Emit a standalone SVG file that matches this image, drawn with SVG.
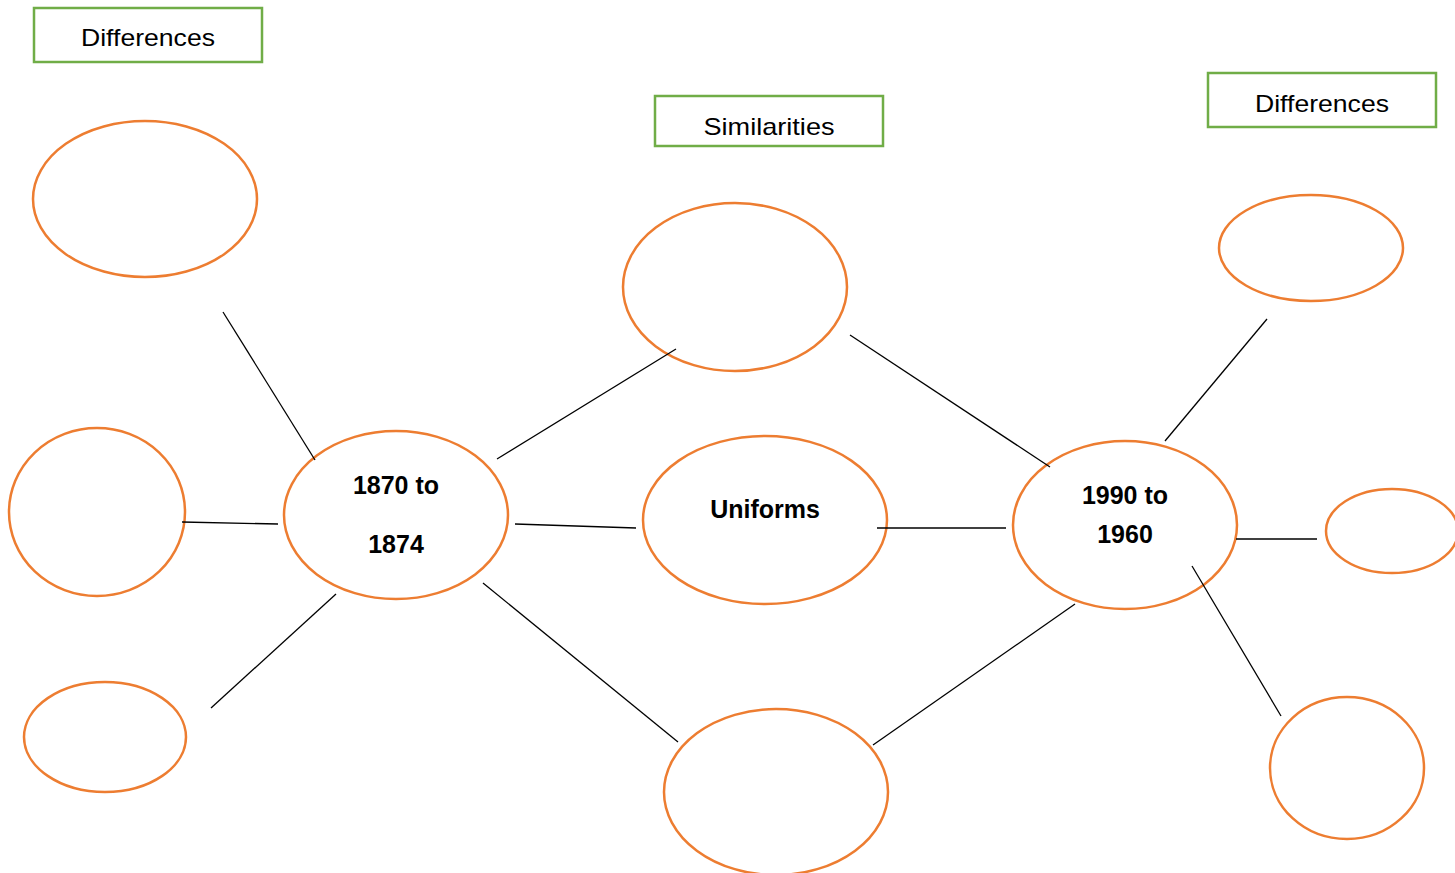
<svg xmlns="http://www.w3.org/2000/svg" width="1455" height="873" viewBox="0 0 1455 873">
<style>
.box{fill:#fff;stroke:#70AD47;stroke-width:2.5}
.ell{fill:#fff;stroke:#ED7D31;stroke-width:2.5}
.lbl{font-family:"Liberation Sans",Arial,sans-serif;font-size:24px;fill:#000;text-anchor:middle}
.bold{font-family:"Liberation Sans",Arial,sans-serif;font-size:25px;font-weight:bold;fill:#000;text-anchor:middle}
.conn line{stroke:#000;stroke-width:1.3}
</style>
<rect width="1455" height="873" fill="#fff"/>
<g id="label-differences-left"><rect class="box" x="34" y="8" width="228" height="54"/><text class="lbl" x="148" y="46" textLength="134" lengthAdjust="spacingAndGlyphs">Differences</text></g>
<g id="label-similarities"><rect class="box" x="655" y="96" width="228" height="50"/><text class="lbl" x="769" y="135" textLength="131" lengthAdjust="spacingAndGlyphs">Similarities</text></g>
<g id="label-differences-right"><rect class="box" x="1208" y="73" width="228" height="54"/><text class="lbl" x="1322" y="112" textLength="134" lengthAdjust="spacingAndGlyphs">Differences</text></g>
<g id="left-top"><ellipse class="ell" cx="145" cy="199" rx="112" ry="78"/></g>
<g id="left-mid"><ellipse class="ell" cx="97" cy="512" rx="88" ry="84"/></g>
<g id="left-bottom"><ellipse class="ell" cx="105" cy="737" rx="81" ry="55"/></g>
<g id="node-1870"><ellipse class="ell" cx="396" cy="515" rx="112" ry="84"/><text class="bold" x="396" y="494">1870 to</text><text class="bold" x="396" y="553">1874</text></g>
<g id="mid-top"><ellipse class="ell" cx="735" cy="287" rx="112" ry="84"/></g>
<g id="node-uniforms"><ellipse class="ell" cx="765" cy="520" rx="122" ry="84"/><text class="bold" x="765" y="518">Uniforms</text></g>
<g id="mid-bottom"><ellipse class="ell" cx="776" cy="792" rx="112" ry="83"/></g>
<g id="node-1990"><ellipse class="ell" cx="1125" cy="525" rx="112" ry="84"/><text class="bold" x="1125" y="504">1990 to</text><text class="bold" x="1125" y="543">1960</text></g>
<g id="right-top"><ellipse class="ell" cx="1311" cy="248" rx="92" ry="53"/></g>
<g id="right-mid"><ellipse class="ell" cx="1392" cy="531" rx="66" ry="42"/></g>
<g id="right-bottom"><ellipse class="ell" cx="1347" cy="768" rx="77" ry="71"/></g>
<g id="connectors" class="conn">
<line x1="223" y1="312" x2="315" y2="460"/>
<line x1="182" y1="522" x2="278" y2="524"/>
<line x1="211" y1="708" x2="336" y2="594"/>
<line x1="497" y1="459" x2="676" y2="349"/>
<line x1="515" y1="524" x2="636" y2="528"/>
<line x1="483" y1="583" x2="678" y2="742"/>
<line x1="850" y1="335" x2="1050" y2="467"/>
<line x1="877" y1="528" x2="1006" y2="528"/>
<line x1="873" y1="745" x2="1075" y2="604"/>
<line x1="1165" y1="441" x2="1267" y2="319"/>
<line x1="1236" y1="539" x2="1317" y2="539"/>
<line x1="1192" y1="566" x2="1281" y2="716"/>
</g>
</svg>
